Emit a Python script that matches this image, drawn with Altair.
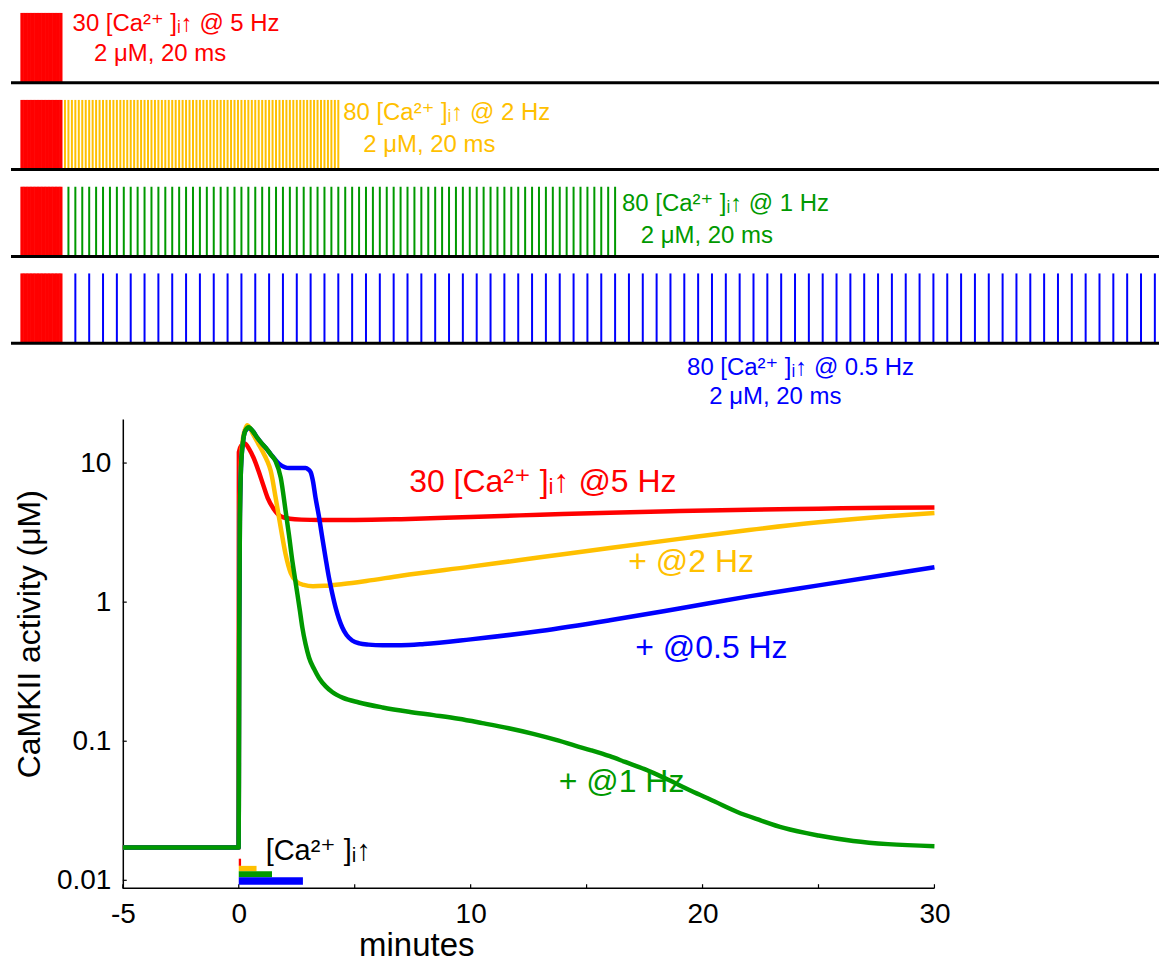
import altair as alt
import pandas as pd

FONT = "Liberation Sans, Arial, Helvetica, DejaVu Sans, sans-serif"

# ---------------- colours (red = 5 Hz priming, yellow 2 Hz, green 1 Hz, blue 0.5 Hz)
COLORS = ["#FF0000", "#FFC000", "#009900", "#0000FF"]

# ---------------- stimulation protocol (top rows)
PRIME_N = 30          # pulses in the priming train
PRIME_RATE = 5.0      # Hz
TRAIN_N = 80          # pulses in the second train
ROW_RATES = [0.0, 2.0, 1.0, 0.5]   # Hz of second train (0 = none)
PULSE_AMP = 2.0       # uM
ROW_LINE1 = ["30 [Ca²⁺ ]ᵢ↑ @ 5 Hz", "80 [Ca²⁺ ]ᵢ↑ @ 2 Hz",
             "80 [Ca²⁺ ]ᵢ↑ @ 1 Hz", "80 [Ca²⁺ ]ᵢ↑ @ 0.5 Hz"]
ROW_LINE2 = ["2 μM, 20 ms", "2 μM, 20 ms", "2 μM, 20 ms", "2 μM, 20 ms"]
ROW_T1 = [7.4, 46.5, 86.8, 96.2]      # s, label positions
ROW_Y1 = [1.69, 1.63, 1.51, -0.71]    # uM
ROW_T2 = [10.5, 49.4, 89.5, 99.4]
ROW_Y2 = [0.83, 0.71, 0.57, -1.54]
T_DOMAIN = [-1.5, 164.4]              # s

# ---------------- CaMKII activity curves (minutes, uM)
B = 0.0172
RED_T = [-5, -0.005, 0.005, 0.1, 0.25, 0.45, 0.65, 0.85, 1.05, 1.25, 1.5, 1.8, 2.2,
         2.7, 3.5, 5, 7, 10, 13, 16, 19, 22, 25, 28, 30]
RED_V = [B, B, 12.0, 13.3, 13.8, 12.6, 10.8, 8.8, 7.0, 5.6, 4.7, 4.15, 3.98,
         3.92, 3.9, 3.9, 3.95, 4.1, 4.25, 4.4, 4.52, 4.62, 4.7, 4.77, 4.8]

YEL_T = [-5, -0.005, 0.005, 0.02, 0.05, 0.1, 0.18, 0.28, 0.37, 0.6, 0.85, 1.05, 1.2,
         1.38, 1.59, 1.81, 2.02, 2.24, 2.5, 2.8, 3.2, 3.7, 4.5, 5.5, 7, 10, 13, 16,
         19, 22, 25, 28, 30]
YEL_V = [B, B, 0.05, 0.6, 4.5, 10.5, 15, 17.6, 18.7, 16.3, 13.7, 11.9, 10.6,
         8.76, 5.64, 3.44, 2.21, 1.62, 1.40, 1.33, 1.30, 1.31, 1.35, 1.42, 1.55, 1.8,
         2.1, 2.45, 2.85, 3.3, 3.75, 4.15, 4.38]

BLU_T = [-5, -0.005, 0.005, 0.02, 0.05, 0.1, 0.18, 0.28, 0.45, 0.6, 0.8, 1.0, 1.16,
         1.45, 1.73, 2.0, 2.17, 2.5, 2.88, 3.0, 3.1, 3.2, 3.31, 3.45, 3.6, 3.75, 3.89,
         4.03, 4.18, 4.32, 4.46, 4.65, 4.89, 5.2, 5.6, 6.2, 7, 8, 10, 13, 16, 19, 22,
         25, 28, 30]
BLU_V = [B, B, 0.05, 0.6, 4.0, 9.5, 14.0, 17.0, 17.9, 17.0, 15.2, 13.8, 12.9,
         11.2, 9.9, 9.3, 9.2, 9.2, 9.2, 9.0, 8.6, 7.4, 5.64, 4.2, 2.92, 2.05, 1.50,
         1.16, 0.91, 0.76, 0.66, 0.58, 0.53, 0.505, 0.495, 0.49, 0.49, 0.5, 0.54,
         0.62, 0.74, 0.9, 1.1, 1.32, 1.58, 1.78]

GRN_T = [-5, -0.005, 0.005, 0.02, 0.05, 0.1, 0.18, 0.28, 0.43, 0.6, 0.8, 1.0, 1.16,
         1.4, 1.59, 1.81, 2.02, 2.17, 2.31, 2.42, 2.53, 2.64, 2.74, 2.88, 3.03, 3.25,
         3.46, 3.75, 4.03, 4.5, 5.18, 6.2, 7.33, 8.4, 9.48, 10.5, 11.64, 12.7, 13.8,
         14.5, 15.2, 16.0, 16.66, 17.5, 18.5, 19.5, 20.5, 21.5, 22.5, 23.5, 25, 26.5,
         28, 30]
GRN_V = [B, B, 0.05, 0.6, 4.0, 9.5, 14.0, 17.0, 18.1, 17.0, 15.2, 13.8, 12.9,
         11.4, 10.3, 7.85, 4.53, 3.0, 1.98, 1.5, 1.14, 0.86, 0.66, 0.5, 0.40, 0.33,
         0.285, 0.248, 0.226, 0.205, 0.19, 0.175, 0.163, 0.154, 0.145, 0.135, 0.124,
         0.113, 0.101, 0.093, 0.086, 0.078, 0.071, 0.063, 0.053, 0.044, 0.037, 0.031,
         0.027, 0.0238, 0.021, 0.0192, 0.0182, 0.0176]

CURVES = [(RED_T, RED_V, COLORS[0]), (YEL_T, YEL_V, COLORS[1]),
          (BLU_T, BLU_V, COLORS[3]), (GRN_T, GRN_V, COLORS[2])]

PLOT_LABELS = ["30 [Ca²⁺ ]ᵢ↑ @5 Hz", "+ @2 Hz", "+ @1 Hz", "+ @0.5 Hz"]
PLOT_LABEL_T = [7.35, 16.8, 13.8, 17.1]
PLOT_LABEL_V = [7.25, 1.95, 0.051, 0.47]
CA_LABEL = "[Ca²⁺ ]ᵢ↑"
CA_LABEL_T, CA_LABEL_V = 1.16, 0.0163

BAR_TOP = [0.0143, 0.0127, 0.0116, 0.0105]
BAR_BOT = [0.0127, 0.0116, 0.0105, 0.0093]

Y_MIN, Y_MAX = 0.00876, 20.7
X_MIN, X_MAX = -5, 30
X_VIEW = [-9.822, 39.684]       # minutes shown across the full-width panel
X_TICKS = [-5, 0, 5, 10, 15, 20, 25, 30]
X_LABELS = [-5, 0, 10, 20, 30]
Y_TICKS = [0.01, 0.1, 1, 10]
PANEL_W = 1150

# ================= top rows =================
def row_chart(r):
    times, cols = [], []
    for i in range(PRIME_N):
        times.append(i / PRIME_RATE)
        cols.append(COLORS[0])
    last = (PRIME_N - 1) / PRIME_RATE
    if ROW_RATES[r] > 0:
        for k in range(TRAIN_N):
            times.append(last + (k + 1) / ROW_RATES[r])
            cols.append(COLORS[r])
    pulses = pd.DataFrame({"t": times, "y": [0.0] * len(times),
                           "y2": [PULSE_AMP] * len(times), "c": cols})
    xs = alt.X("t:Q", scale=alt.Scale(domain=T_DOMAIN, nice=False, zero=False), axis=None)
    ys = alt.Y("y:Q", scale=alt.Scale(domain=[0, PULSE_AMP], nice=False, zero=False), axis=None)
    p = alt.Chart(pulses).mark_rule(strokeWidth=2, clip=True).encode(
        x=xs, y=ys, y2="y2:Q", color=alt.Color("c:N", scale=None))
    base = alt.Chart(pd.DataFrame({"t": [T_DOMAIN[0]], "t2": [T_DOMAIN[1]], "y": [0.0]})
                     ).mark_rule(color="black", strokeWidth=3).encode(x=xs, x2="t2:Q", y=ys)
    txt = pd.DataFrame({"t": [ROW_T1[r], ROW_T2[r]], "y": [ROW_Y1[r], ROW_Y2[r]],
                        "label": [ROW_LINE1[r], ROW_LINE2[r]]})
    tx = alt.Chart(txt).mark_text(align="left", baseline="middle", font=FONT,
                                  fontSize=24, color=COLORS[r]).encode(
        x=xs, y=ys, text="label:N")
    return alt.layer(p, base, tx).properties(width=PANEL_W, height=70)


rows = alt.concat(*[row_chart(r) for r in range(4)], columns=1).properties(
    spacing=15).resolve_scale(x="independent", y="independent")

# ================= bottom chart =================
X_ENC = alt.X("m:Q", scale=alt.Scale(domain=X_VIEW, nice=False, zero=False),
              axis=alt.Axis(values=X_LABELS, ticks=False, tickSize=0, labelPadding=12,
                            labelFontSize=28, labelFont=FONT, labelColor="black",
                            labelExpr="datum.value < 0 ? '-' + abs(datum.value) : datum.label",
                            domain=False, grid=False,
                            title="minutes", titleFont=FONT, titleFontSize=33,
                            titleFontWeight="normal", titleColor="black",
                            titleX=406, titleY=57, titleBaseline="middle",
                            titleAlign="center"))
Y_ENC = alt.Y("v:Q", scale=alt.Scale(type="log", domain=[Y_MIN, Y_MAX], nice=False),
              axis=alt.Axis(values=Y_TICKS, format="~g", ticks=False, tickSize=0,
                            offset=-112,
                            labelPadding=12, labelFontSize=28, labelFont=FONT,
                            labelColor="black", domainColor="black", domainWidth=1.5,
                            grid=False, title="CaMKII activity (μM)", titleFont=FONT,
                            titleFontSize=32, titleFontWeight="normal",
                            titleColor="black", titleX=-93, titleY=215,
                            titleBaseline="middle", titleAlign="center"))

layers = []
# x axis line and inward ticks
xl = pd.DataFrame({"m": [X_MIN], "m2": [X_MAX], "v": [Y_MIN]})
layers.append(alt.Chart(xl).mark_rule(color="black", strokeWidth=1.5).encode(
    x=X_ENC, x2="m2:Q", y=Y_ENC))
xt = pd.DataFrame({"m": X_TICKS, "v": [Y_MIN] * len(X_TICKS),
                   "v2": [Y_MIN * 1.07] * len(X_TICKS)})
layers.append(alt.Chart(xt).mark_rule(color="black", strokeWidth=1.2).encode(
    x=X_ENC, y=Y_ENC, y2="v2:Q"))
yt = pd.DataFrame({"m": [X_MIN] * len(Y_TICKS), "m2": [X_MIN + 0.17] * len(Y_TICKS),
                   "v": Y_TICKS})
layers.append(alt.Chart(yt).mark_rule(color="black", strokeWidth=1.2).encode(
    x=X_ENC, x2="m2:Q", y=Y_ENC))

# stimulus bars
dur = [(PRIME_N / PRIME_RATE + (TRAIN_N / r if r > 0 else 0)) / 60.0 for r in ROW_RATES]
bars = pd.DataFrame({"m": [0.0] * 4, "m2": dur, "v": BAR_BOT, "v2": BAR_TOP, "c": COLORS})
layers.append(alt.Chart(bars).mark_rect().encode(
    x=X_ENC, x2="m2:Q", y=Y_ENC, y2="v2:Q", color=alt.Color("c:N", scale=None)))

for ts, vs, c in CURVES:
    df = pd.DataFrame({"m": ts, "v": vs})
    layers.append(alt.Chart(df).mark_line(color=c, strokeWidth=4.5, strokeJoin="round",
                                          interpolate="monotone").encode(x=X_ENC, y=Y_ENC))

lab = pd.DataFrame({"m": PLOT_LABEL_T, "v": PLOT_LABEL_V, "label": PLOT_LABELS,
                    "c": [COLORS[0], COLORS[1], COLORS[2], COLORS[3]]})
layers.append(alt.Chart(lab).mark_text(align="left", baseline="middle", font=FONT,
                                       fontSize=32).encode(
    x=X_ENC, y=Y_ENC, text="label:N", color=alt.Color("c:N", scale=None)))
ca = pd.DataFrame({"m": [CA_LABEL_T], "v": [CA_LABEL_V], "label": [CA_LABEL]})
layers.append(alt.Chart(ca).mark_text(align="left", baseline="middle", font=FONT,
                                      fontSize=29, color="black").encode(
    x=X_ENC, y=Y_ENC, text="label:N"))

bottom = alt.layer(*layers).properties(width=PANEL_W, height=470)

chart = alt.concat(rows, bottom, columns=1).properties(
    spacing=10,
    padding={"left": 1, "top": 2, "right": 0, "bottom": 0}
).resolve_scale(x="independent", y="independent").configure_view(
    stroke="transparent", strokeWidth=0)

chart.save("out.html", embed_options={"renderer": "svg", "actions": False})
